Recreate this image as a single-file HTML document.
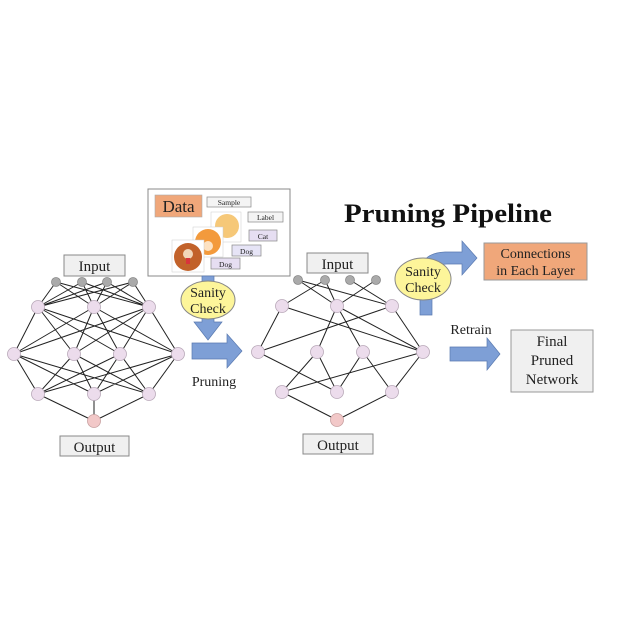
<!DOCTYPE html>
<html><head><meta charset="utf-8"><style>
html,body{margin:0;padding:0;background:#fff;}
svg{display:block;font-family:"Liberation Serif",serif;}
</style></head><body>
<svg width="622" height="622" viewBox="0 0 622 622" xmlns="http://www.w3.org/2000/svg">
<rect width="622" height="622" fill="#fff"/>
<g stroke="#222" stroke-width="1" fill="none">
<path d="M56 282L38 307M56 282L94 307M56 282L149 307M82 282L38 307M82 282L94 307M82 282L149 307M107 282L38 307M107 282L94 307M107 282L149 307M133 282L38 307M133 282L94 307M133 282L149 307"/>
<path d="M38 307L14 354M38 307L74 354M38 307L120 354M38 307L178 354M94 307L14 354M94 307L74 354M94 307L120 354M94 307L178 354M149 307L14 354M149 307L74 354M149 307L120 354M149 307L178 354"/>
<path d="M14 354L38 394M14 354L94 394M14 354L149 394M74 354L38 394M74 354L94 394M74 354L149 394M120 354L38 394M120 354L94 394M120 354L149 394M178 354L38 394M178 354L94 394M178 354L149 394"/>
<path d="M38 394L94 421M94 394L94 421M149 394L94 421"/>
</g>
<g stroke="#222" stroke-width="1" fill="none">
<path d="M298 280L337 306M298 280L392 306M325 280L282 306M325 280L337 306M350 280L392 306M376 280L337 306"/>
<path d="M282 306L258 352M282 306L423 352M337 306L317 352M337 306L363 352M337 306L423 352M392 306L258 352M392 306L423 352"/>
<path d="M258 352L337 392M317 352L282 392M317 352L337 392M363 352L392 392M363 352L337 392M423 352L282 392M423 352L392 392"/>
<path d="M282 392L337 420M392 392L337 420"/>
</g>
<g fill="#aaa" stroke="#888" stroke-width="0.8">
<circle cx="56" cy="282" r="4.5"/><circle cx="82" cy="282" r="4.5"/><circle cx="107" cy="282" r="4.5"/><circle cx="133" cy="282" r="4.5"/>
<circle cx="298" cy="280" r="4.5"/><circle cx="325" cy="280" r="4.5"/><circle cx="350" cy="280" r="4.5"/><circle cx="376" cy="280" r="4.5"/>
</g>
<g fill="#ecdcec" stroke="#b8a8b8" stroke-width="0.8">
<circle cx="38" cy="307" r="6.5"/><circle cx="94" cy="307" r="6.5"/><circle cx="149" cy="307" r="6.5"/>
<circle cx="14" cy="354" r="6.5"/><circle cx="74" cy="354" r="6.5"/><circle cx="120" cy="354" r="6.5"/><circle cx="178" cy="354" r="6.5"/>
<circle cx="38" cy="394" r="6.5"/><circle cx="94" cy="394" r="6.5"/><circle cx="149" cy="394" r="6.5"/>
<circle cx="282" cy="306" r="6.5"/><circle cx="337" cy="306" r="6.5"/><circle cx="392" cy="306" r="6.5"/>
<circle cx="258" cy="352" r="6.5"/><circle cx="317" cy="352" r="6.5"/><circle cx="363" cy="352" r="6.5"/><circle cx="423" cy="352" r="6.5"/>
<circle cx="282" cy="392" r="6.5"/><circle cx="337" cy="392" r="6.5"/><circle cx="392" cy="392" r="6.5"/>
</g>
<g fill="#f2c8c8" stroke="#c8a0a0" stroke-width="0.8">
<circle cx="94" cy="421" r="6.5"/><circle cx="337" cy="420" r="6.5"/>
</g>
<g fill="#f0f0f0" stroke="#888" stroke-width="1">
<rect x="64" y="255" width="61" height="21"/>
<rect x="60" y="436" width="69" height="20"/>
<rect x="307" y="253" width="61" height="20"/>
<rect x="303" y="434" width="70" height="20"/>
</g>
<g font-size="15" fill="#222" text-anchor="middle">
<text x="94.5" y="271">Input</text>
<text x="94.5" y="452">Output</text>
<text x="337.5" y="269">Input</text>
<text x="338" y="450">Output</text>
</g>
<rect x="148" y="189" width="142" height="87" fill="#fff" stroke="#888" stroke-width="1"/>
<rect x="155" y="195" width="47" height="22" fill="#f0a77a" stroke="#aaa" stroke-width="0.6"/>
<text x="178.5" y="212" font-size="17" text-anchor="middle" fill="#222">Data</text>
<g stroke="#888" stroke-width="0.7">
<rect x="207" y="197" width="44" height="10" fill="#f4f4f4"/>
<rect x="248" y="212" width="35" height="10" fill="#f4f4f4"/>
<rect x="249" y="230" width="28" height="11" fill="#e6def2"/>
<rect x="232" y="245" width="29" height="11" fill="#e6e4f6"/>
<rect x="211" y="258" width="29" height="11" fill="#e6def2"/>
</g>
<g font-size="7.5" text-anchor="middle" fill="#222">
<text x="229" y="205">Sample</text><text x="265.5" y="220">Label</text><text x="263" y="239">Cat</text><text x="246.5" y="254">Dog</text><text x="225.5" y="267">Dog</text>
</g>
<rect x="211" y="212" width="30" height="30" fill="#fff" stroke="#ccc" stroke-width="0.5"/>
<circle cx="227" cy="226" r="12" fill="#f6c878"/>
<rect x="193" y="227" width="30" height="30" fill="#fff" stroke="#ccc" stroke-width="0.5"/>
<circle cx="208" cy="242" r="13" fill="#f39a3c"/>
<circle cx="208" cy="246" r="5" fill="#fde2c2"/>
<rect x="172" y="240" width="32" height="32" fill="#fff" stroke="#ccc" stroke-width="0.5"/>
<ellipse cx="188" cy="257" rx="14" ry="14" fill="#c2622a"/>
<circle cx="188" cy="254" r="5" fill="#f2d6b8"/>
<rect x="186" y="258" width="4" height="6" fill="#d8343c"/>
<path d="M202 276H214V322H222L208 340L194 322H202Z" fill="#7e9fd6" stroke="#5a7ab0" stroke-width="0.7"/>
<ellipse cx="208" cy="300" rx="27" ry="19" fill="#fdf59a" stroke="#888" stroke-width="1"/>
<text x="208" y="297" font-size="14" text-anchor="middle" fill="#222">Sanity</text>
<text x="208" y="313" font-size="14" text-anchor="middle" fill="#222">Check</text>
<path d="M192 343H227V334L242 351L227 368V359H192Z" fill="#7e9fd6" stroke="#5a7ab0" stroke-width="0.7"/>
<text x="214" y="386" font-size="14" text-anchor="middle" fill="#222">Pruning</text>
<text x="448" y="222" font-size="26" font-weight="bold" text-anchor="middle" fill="#111" textLength="208" lengthAdjust="spacingAndGlyphs">Pruning Pipeline</text>
<path d="M420 315V275Q420 253 445 252H462V241L477 258L462 275V264H447Q432 264 432 280V315Z" fill="#7e9fd6" stroke="#5a7ab0" stroke-width="0.7"/>
<ellipse cx="423" cy="279" rx="28" ry="21" fill="#fdf59a" stroke="#888" stroke-width="1"/>
<text x="423" y="276" font-size="14" text-anchor="middle" fill="#222">Sanity</text>
<text x="423" y="292" font-size="14" text-anchor="middle" fill="#222">Check</text>
<rect x="484" y="243" width="103" height="37" fill="#f0a77a" stroke="#999" stroke-width="1"/>
<text x="535.5" y="258" font-size="14" text-anchor="middle" fill="#222">Connections</text>
<text x="535.5" y="275" font-size="14" text-anchor="middle" fill="#222">in Each Layer</text>
<text x="471" y="334" font-size="14" text-anchor="middle" fill="#222">Retrain</text>
<path d="M450 347H487V338L500 354L487 370V361H450Z" fill="#7e9fd6" stroke="#5a7ab0" stroke-width="0.7"/>
<rect x="511" y="330" width="82" height="62" fill="#f0f0f0" stroke="#999" stroke-width="1"/>
<g font-size="15" text-anchor="middle" fill="#222">
<text x="552" y="346">Final</text><text x="552" y="365">Pruned</text><text x="552" y="384">Network</text>
</g>
</svg>
</body></html>
